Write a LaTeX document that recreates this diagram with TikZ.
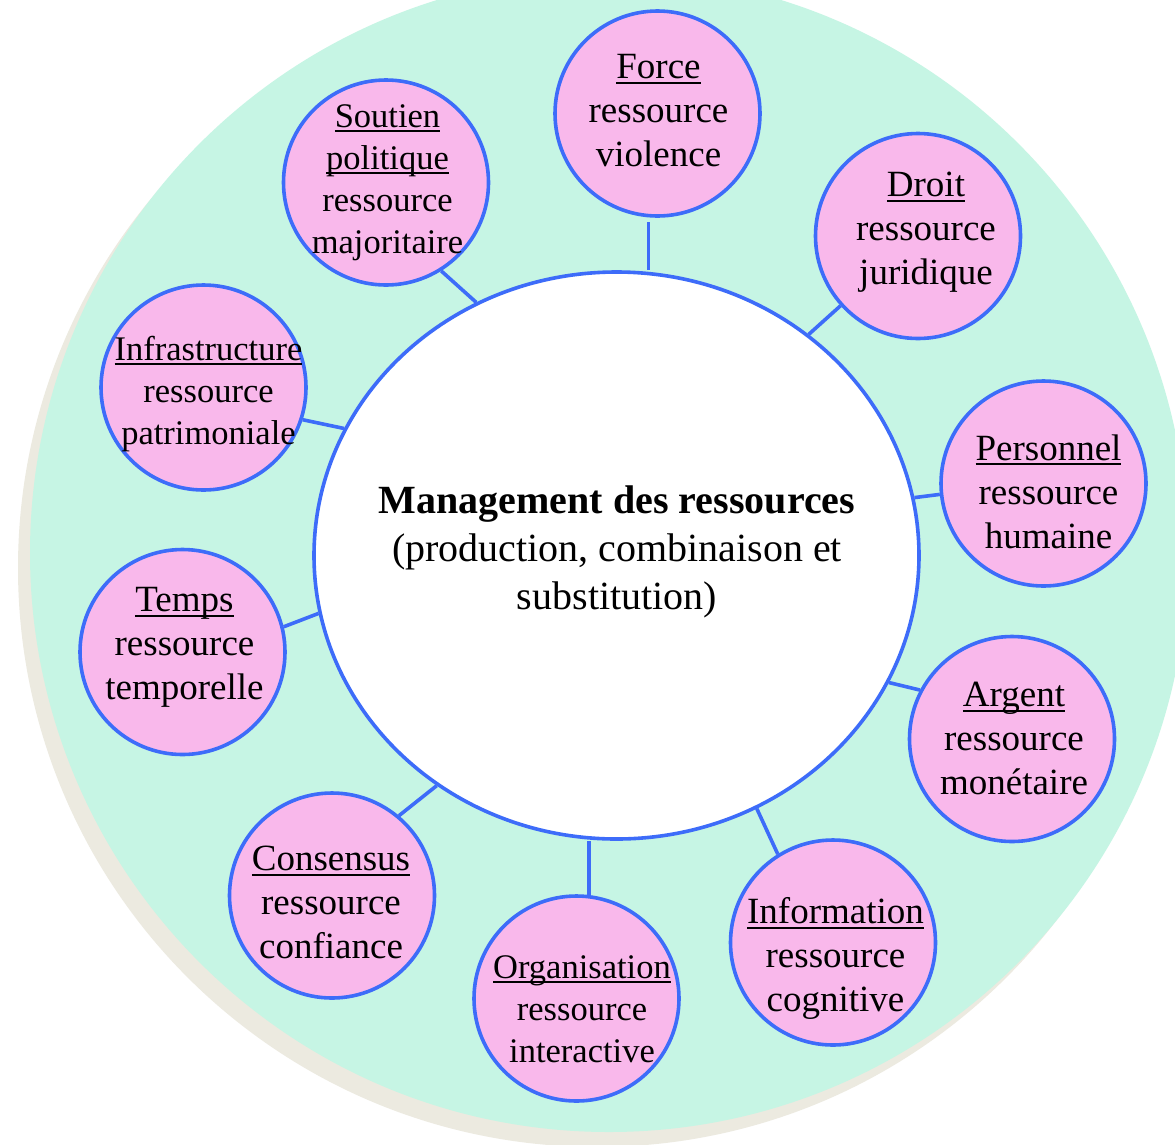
\documentclass[tikz,border=0pt]{standalone}
\usepackage{fontspec}
\setmainfont{Liberation Serif}
\usetikzlibrary{shapes.geometric}
\definecolor{mint}{HTML}{C6F5E4}
\definecolor{shadowbeige}{HTML}{ECEAE0}
\definecolor{pinkfill}{HTML}{F9B8EB}
\definecolor{bordblue}{HTML}{3D6CF9}
\newsavebox\undlbox
\newcommand\undl[1]{\sbox\undlbox{#1}\rlap{\rule[-5pt]{\wd\undlbox}{1.8pt}}\usebox\undlbox}
\newcommand\ctext[3]{\makebox[0pt]{\hspace*{#1pt}\hspace*{#1pt}\raisebox{#2pt}[0pt][0pt]{\begin{tabular}{@{}c@{}}#3\end{tabular}}}}
\tikzset{
  res/.style={circle, draw=bordblue, fill=pinkfill, line width=3.6pt,
    minimum size=205pt, inner sep=0pt, font=\fontsize{37}{44}\selectfont},
  ressm/.style={res, font=\fontsize{34.5}{42}\selectfont},
  hub/.style={ellipse, draw=bordblue, fill=white, line width=3.6pt,
    minimum width=605pt, minimum height=567pt, inner sep=0pt,
    font=\fontsize{40}{48}\selectfont},
  link/.style={draw=bordblue, line width=3.6pt},
}
\begin{document}
\begin{tikzpicture}[x=1pt,y=-1pt]
\useasboundingbox (0,0) rectangle (1175,1144);
\clip (0,0) rectangle (1175,1144);
\fill[white] (0,0) rectangle (1175,1144);
% background disc with shadow
\fill[shadowbeige] (597,568) circle (579pt);
\fill[mint] (609,553) circle (579pt);
% central node
\node[hub] (mgmt) at (616.5,555.5) {\ctext{0.5}{-2.5}{\textbf{Management des ressources}\\(production, combinaison et\\substitution)}};
% resource nodes
\node[ressm] (soutien) at (386,182.5) {\ctext{1.5}{-5.5}{\undl{Soutien}\\\undl{politique}\\ressource\\majoritaire}};
\node[res] (force) at (657.5,113.5) {\ctext{1}{-6.5}{\undl{Force}\\ressource\\violence}};
\node[res] (droit) at (918,236) {\ctext{8}{-2}{\undl{Droit}\\ressource\\juridique}};
\node[res] (personnel) at (1043.5,483.5) {\ctext{5}{-18}{\undl{Personnel}\\ressource\\humaine}};
\node[res] (argent) at (1012,739) {\ctext{2}{-9}{\undl{Argent}\\ressource\\monétaire}};
\node[res] (information) at (833,942.5) {\ctext{2.5}{-22.5}{\undl{Information}\\ressource\\cognitive}};
\node[ressm] (organisation) at (576.5,998.5) {\ctext{5.5}{-19.5}{\undl{Organisation}\\ressource\\interactive}};
\node[res] (consensus) at (332,895.5) {\ctext{-1}{-16.5}{\undl{Consensus}\\ressource\\confiance}};
\node[res] (temps) at (182.5,652) {\ctext{2}{-1.3}{\undl{Temps}\\ressource\\temporelle}};
\node[ressm] (infra) at (203.5,387.5) {\ctext{5}{-12.5}{\undl{Infrastructure}\\ressource\\patrimoniale}};
% connectors
\draw[link] (soutien.-58) -- (mgmt.119.5);
\draw[link, shorten <=5pt] (force.-95) -- (force.-95 |- mgmt.north);
\draw[link] (droit.-138.4) -- (mgmt.49);
\draw[link] (personnel.186.3) -- (mgmt.11.7);
\draw[link] (argent.152.4) -- (mgmt.-25.8);
\draw[link] (information.122.2) -- (mgmt.-61.2);
\draw[link] (organisation.83.1) -- (organisation.83.1 |- mgmt.south);
\draw[link] (consensus.50.3) -- (mgmt.-128.3);
\draw[link] (temps.14.2) -- (mgmt.191.5);
\draw[link] (infra.-18.8) -- (mgmt.155.8);
\end{tikzpicture}
\end{document}
